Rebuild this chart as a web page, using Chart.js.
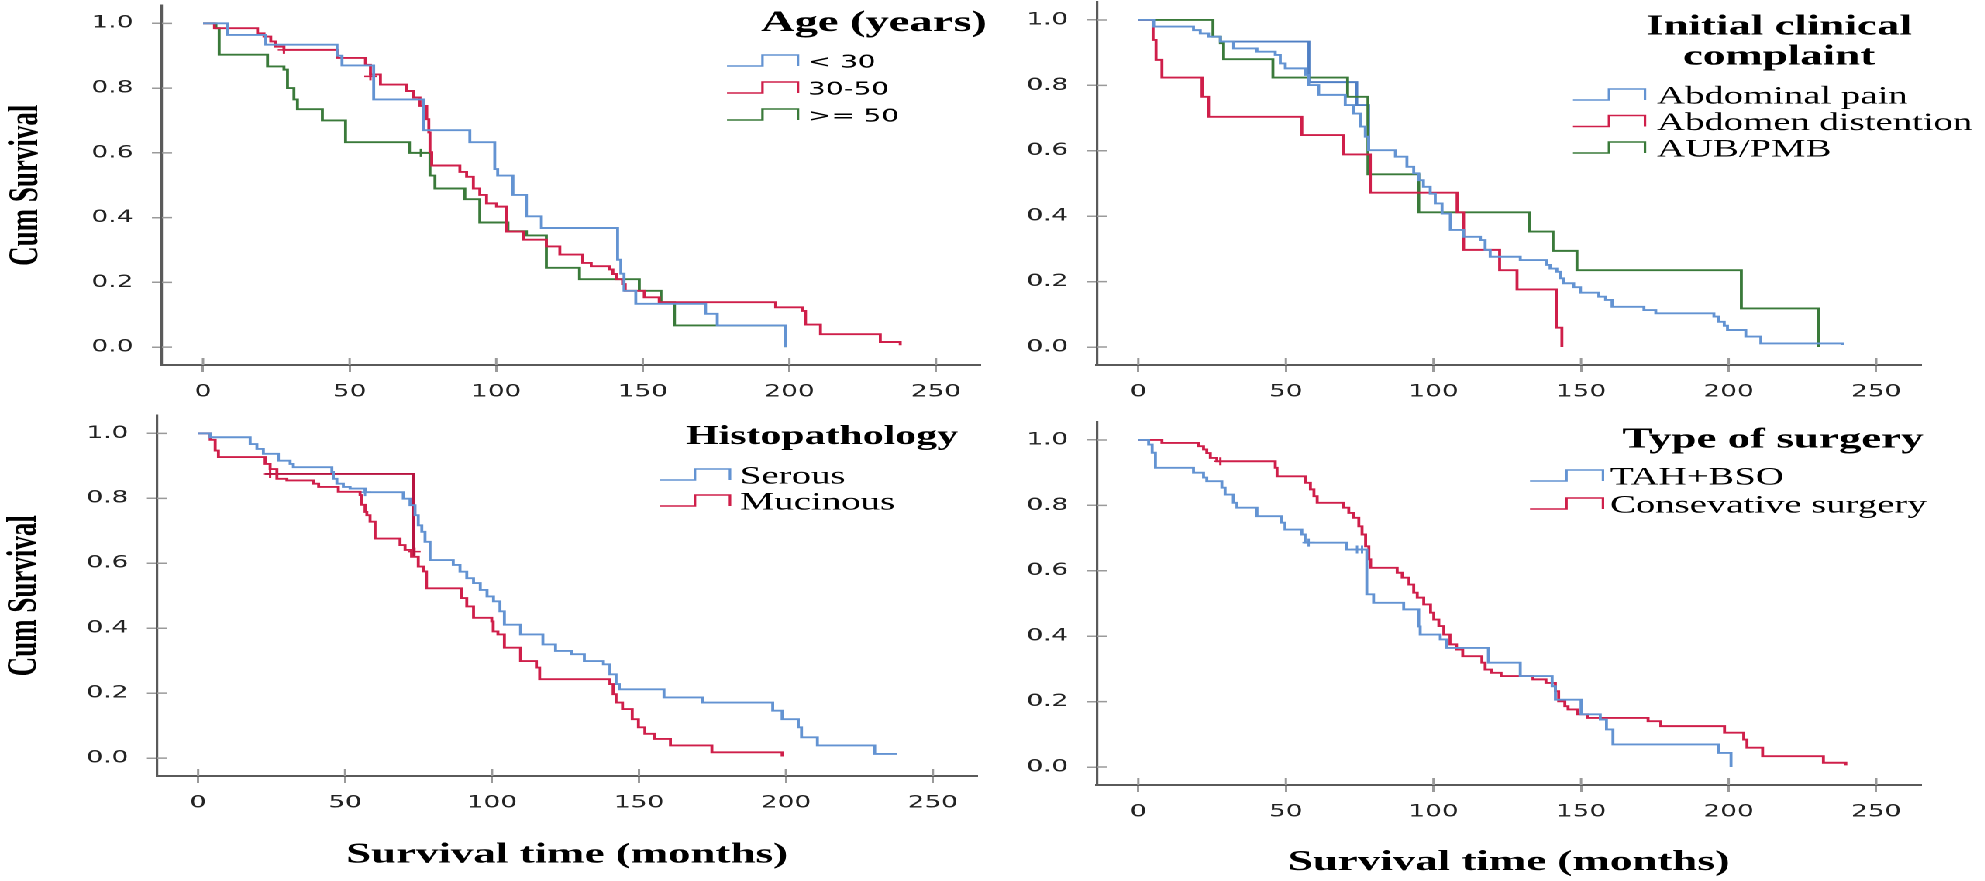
<!DOCTYPE html>
<html>
<head>
<meta charset="utf-8">
<title>Kaplan-Meier survival curves</title>
<script src="https://cdn.jsdelivr.net/npm/chart.js@4.4.1/dist/chart.umd.min.js"></script>
<style>
  html, body { margin: 0; padding: 0; background: #fff; overflow: hidden; }
  #stage { position: absolute; left: 0; top: 0; height: 881px; transform-origin: 0 0; }
  #stage canvas { position: absolute; }
</style>
</head>
<body>
<div id="stage">
  <canvas id="c1"></canvas>
  <canvas id="c2"></canvas>
  <canvas id="c3"></canvas>
  <canvas id="c4"></canvas>
</div>
<script>
// the source figure is stretched sideways, so draw narrow and stretch the stage
const SX = 1.55;

// ---- axis ticks ----
const monthTicks = [0, 50, 100, 150, 200, 250];
const survTicks = [0, 0.2, 0.4, 0.6, 0.8, 1.0];

// ---- Age (years) : [month, cum survival] ----
const ageLabels = ['< 30', '30-50', '>= 50'];
const ageUnder30 = [[0,1],[8.4,0.964],[21.4,0.934],[45.7,0.90],[47.4,0.87],[58.2,0.765],[75.2,0.67],[91,0.633],[99.5,0.55],[100.5,0.53],[105.7,0.47],[110.3,0.404],[115.4,0.368],[141.4,0.27],[142.5,0.227],[143.6,0.174],[147.6,0.134],[171.4,0.103],[175.4,0.067],[198.6,0]];
const age30to50 = [[0,1],[3.9,0.985],[18.6,0.969],[20.8,0.959],[23.1,0.944],[24.8,0.928],[27.6,0.918],[45.7,0.893],[55.4,0.872],[57.1,0.842],[60.5,0.811],[69.5,0.791],[71.8,0.771],[74,0.745],[76.3,0.704],[77,0.663],[77.4,0.602],[78,0.561],[87.6,0.541],[89.9,0.526],[92.2,0.49],[94.4,0.47],[96.7,0.444],[100.1,0.434],[103.5,0.357],[109.2,0.332],[117.1,0.311],[121.7,0.286],[129.5,0.26],[132.4,0.25],[138.6,0.24],[139.8,0.226],[141,0.21],[143.1,0.195],[144,0.174],[150.5,0.154],[155.6,0.139],[195.3,0.123],[204.4,0.112],[205.5,0.07],[210.6,0.04],[231,0.016],[237.8,0.006]];
const ageOver50 = [[0,1],[4.4,0.985],[5.5,0.903],[22,0.867],[27.6,0.857],[28.8,0.80],[31,0.765],[32.2,0.735],[40.7,0.70],[48.6,0.633],[70.4,0.60],[77.4,0.53],[79.1,0.49],[89.3,0.457],[94.4,0.385],[104,0.358],[110.3,0.345],[117.1,0.245],[128.4,0.21],[148.8,0.174],[156.2,0.139],[160.8,0.067],[198.6,0]];
const ageCensor30to50 = [[27.6,0.918],[57.1,0.836]];
const ageCensorOver50 = [[74.3,0.60]];

// ---- Initial clinical complaint ----
const complaintLabels = ['Abdominal pain', 'Abdomen distention', 'AUB/PMB'];
const complaintPain = [[0,1],[5.2,0.98],[18.7,0.969],[21,0.959],[23.8,0.949],[27.8,0.934],[32.3,0.913],[40.2,0.903],[46.4,0.893],[48.1,0.867],[49.8,0.852],[56.6,0.832],[57.7,0.801],[61.1,0.771],[70.1,0.74],[72.9,0.714],[75.2,0.674],[76.9,0.643],[78,0.602],[87.1,0.582],[91,0.551],[93.3,0.531],[95,0.51],[96.6,0.49],[98.9,0.469],[100.6,0.439],[102.9,0.408],[105.7,0.358],[110.2,0.337],[115.9,0.327],[117.5,0.297],[119.2,0.276],[129.4,0.266],[138.4,0.251],[139.5,0.24],[141.8,0.23],[143,0.21],[144.1,0.195],[147.5,0.183],[149.8,0.166],[156,0.154],[158.3,0.144],[160.5,0.123],[171.3,0.113],[175.3,0.103],[195,0.093],[196.5,0.077],[198.5,0.065],[199.6,0.052],[205.8,0.032],[210.9,0.011],[238.5,0.006]];
const complaintPainUpper = [[27.8,0.934],[57.8,0.934],[57.8,0.81],[74,0.81],[74,0.74],[78,0.74],[78,0.602]];
const complaintDistention = [[0,1],[5,0.939],[6,0.878],[8,0.824],[21.6,0.765],[23.8,0.704],[55.4,0.648],[69.6,0.589],[78.6,0.472],[108,0.412],[110.2,0.297],[122.4,0.235],[128.3,0.176],[141.6,0.059],[143.5,0]];
const complaintAub = [[0,1],[25.3,0.949],[27.8,0.929],[28.9,0.88],[45.6,0.824],[70.9,0.765],[77.8,0.528],[95,0.412],[132.6,0.353],[140.5,0.294],[148.6,0.235],[204.3,0.118],[230.5,0]];

// ---- Histopathology ----
const histoLabels = ['Serous', 'Mucinous'];
const histoSerous = [[0,1],[4.1,0.988],[17.7,0.967],[20,0.952],[22.2,0.937],[27.3,0.916],[31.3,0.906],[32.4,0.896],[45.5,0.881],[46,0.86],[47.2,0.845],[49.4,0.835],[51.7,0.83],[56.8,0.819],[69.8,0.799],[72.1,0.779],[73.8,0.748],[74.9,0.717],[76.1,0.697],[77.2,0.666],[78.9,0.61],[86.8,0.595],[89.1,0.574],[91.4,0.554],[93.7,0.539],[96,0.518],[98.3,0.498],[100.5,0.483],[102.7,0.452],[104.2,0.411],[109.7,0.381],[117.3,0.35],[121.6,0.33],[127,0.32],[131.4,0.299],[137.9,0.289],[140.1,0.258],[142.2,0.228],[143.3,0.212],[158.5,0.187],[171.6,0.171],[195.5,0.146],[198.7,0.12],[204.2,0.095],[205.3,0.064],[210.7,0.039],[230.2,0.013],[237.8,0.013]];
const histoMucinous = [[0,1],[4.1,0.98],[5.8,0.947],[6.9,0.927],[22.8,0.906],[24.5,0.89],[26.8,0.86],[30.2,0.855],[39.3,0.845],[41,0.835],[47.7,0.82],[55.1,0.81],[55.7,0.78],[56.8,0.758],[57.4,0.748],[58.5,0.728],[60.2,0.676],[68.7,0.656],[70.4,0.641],[72.6,0.62],[74.9,0.59],[76.6,0.575],[77.7,0.523],[89.6,0.493],[91.4,0.467],[93.7,0.432],[99.9,0.421],[100.4,0.39],[102,0.381],[104.2,0.34],[109.7,0.299],[115.1,0.279],[116.2,0.243],[140.1,0.228],[141.2,0.197],[142.2,0.171],[144.4,0.151],[147.7,0.12],[149.8,0.095],[152,0.075],[155.2,0.059],[160.7,0.039],[174.8,0.018],[198.7,0.005]];
const histoMucinousUpper = [[22.8,0.875],[73.3,0.875],[73.3,0.62]];
const histoCensorSerous = [[56.8,0.819]];
const histoCensorMucinous = [[24.5,0.875],[73.6,0.636]];

// ---- Type of surgery ----
const surgeryLabels = ['TAH+BSO', 'Consevative surgery'];
const surgeryTah = [[0,1],[3.5,0.986],[4.7,0.961],[5.8,0.915],[18.7,0.90],[22.1,0.885],[23.2,0.874],[28.3,0.854],[29.4,0.833],[32.2,0.808],[33.4,0.793],[40.2,0.767],[48.6,0.747],[49.7,0.726],[55.4,0.711],[56.5,0.686],[70.6,0.665],[77.4,0.528],[79.7,0.502],[89.9,0.482],[95,0.43],[95.5,0.405],[102.3,0.39],[104.5,0.364],[118.6,0.319],[129.4,0.278],[140.2,0.247],[141.3,0.206],[150,0.161],[156.5,0.145],[158.6,0.115],[160.8,0.069],[196.5,0.043],[200.8,0]];
const surgeryConservative = [[0,1],[8,0.991],[20.4,0.981],[22.1,0.971],[23.2,0.96],[24.4,0.945],[26.6,0.935],[46.4,0.915],[47,0.889],[56.6,0.869],[58.3,0.849],[59.5,0.828],[60.6,0.808],[69.6,0.793],[71.3,0.777],[73,0.762],[74.7,0.736],[75.8,0.711],[77,0.675],[78.1,0.635],[78.7,0.609],[87.7,0.594],[89.4,0.579],[91.7,0.558],[93.3,0.533],[94.5,0.518],[96.7,0.497],[99,0.472],[100.1,0.451],[101.8,0.431],[103.5,0.405],[105.6,0.375],[107.8,0.359],[109.9,0.339],[116.4,0.319],[117.5,0.298],[119.7,0.288],[122.9,0.278],[133.7,0.268],[138.1,0.257],[141.3,0.232],[142.4,0.201],[144.5,0.186],[145.6,0.176],[148.9,0.161],[152.1,0.15],[172.7,0.14],[177,0.125],[198.6,0.105],[205.1,0.084],[206.2,0.059],[211.5,0.033],[232.1,0.013],[239.7,0.005]];
const surgeryCensorTah = [[57.7,0.686],[74.1,0.665],[75.8,0.665]];
const surgeryCensorConservative = [[27.8,0.935]];

const BLUE = '#6393d2';
const RED = '#cf1f4a';
const GREEN = '#3a7a3a';

const SERIF = '"Liberation Serif", "Times New Roman", serif';
const SANS = '"DejaVu Sans", Verdana, sans-serif';

function pts(arr) {
    return arr.map(([x, y]) => ({ x: x, y: y }));
}

function curve(label, arr, color, inLegend) {
    return {
        label: label,
        data: pts(arr),
        borderColor: color,
        backgroundColor: color,
        borderWidth: 1.9,
        stepped: 'before',
        pointRadius: 0,
        fill: false,
        legend: inLegend
    };
}

function censor(arr, color) {
    return {
        label: '',
        data: pts(arr),
        showLine: false,
        pointStyle: 'cross',
        pointRadius: 4,
        pointBorderWidth: 1.5,
        pointBorderColor: color,
        legend: false
    };
}

// tick marks in SPSS cross the axis line, Chart.js only draws the outer half
const tickCross = {
    id: 'tickCross',
    afterDraw(chart) {
        const { ctx, chartArea: a, scales: { x, y } } = chart;
        ctx.save();
        ctx.strokeStyle = '#9a9a9a';
        ctx.lineWidth = 1.5;
        ctx.beginPath();
        survTicks.forEach(v => {
            const py = y.getPixelForValue(v);
            ctx.moveTo(a.left, py);
            ctx.lineTo(a.left + 6.5, py);
        });
        monthTicks.forEach(v => {
            const px = x.getPixelForValue(v);
            ctx.moveTo(px, a.bottom);
            ctx.lineTo(px, a.bottom - 7);
        });
        ctx.stroke();
        ctx.restore();
    }
};

// legend with step icons, positions given in page pixels
const kmLegend = {
    id: 'kmLegend',
    afterDraw(chart, args, o) {
        const ctx = chart.ctx;
        const lx = v => (v - o.offX) / SX;
        const ly = v => v - o.offY;
        ctx.save();
        ctx.fillStyle = '#000';
        ctx.textBaseline = 'middle';
        ctx.textAlign = 'center';
        ctx.font = 'bold ' + o.titleSize + 'px ' + SERIF;
        o.title.forEach((t, i) => ctx.fillText(t, lx(o.titleX), ly(o.titleY + i * o.titleGap)));
        ctx.textAlign = 'left';
        ctx.font = o.itemFont;
        const items = chart.data.datasets.filter(d => d.legend);
        items.forEach((d, i) => {
            const cy = ly(o.rowY + i * o.rowGap);
            const x0 = lx(o.iconX), x1 = lx(o.iconX + o.iconW), xm = (x0 + x1) / 2;
            ctx.strokeStyle = d.borderColor;
            ctx.lineWidth = 1.6;
            ctx.beginPath();
            ctx.moveTo(x0, cy + 3);
            ctx.lineTo(xm, cy + 3);
            ctx.lineTo(xm, cy - 8);
            ctx.lineTo(x1, cy - 8);
            ctx.lineTo(x1, cy + 3);
            ctx.stroke();
            ctx.fillText(d.label, lx(o.textX), cy);
        });
        ctx.restore();
    }
};

function makePanel(p) {
    const cv = document.getElementById(p.id);
    const [bx, by, bw, bh] = p.box;
    cv.width = Math.round(bw / SX);
    cv.height = bh;
    cv.style.left = (bx / SX) + 'px';
    cv.style.top = by + 'px';

    const yWidth = (p.area.left - bx) / SX;
    const xHeight = by + bh - p.area.bottom;

    new Chart(cv, {
        type: 'line',
        data: { datasets: p.datasets },
        options: {
            responsive: false,
            animation: false,
            devicePixelRatio: 2,
            events: [],
            layout: {
                padding: { left: 0, top: p.area.top - by, right: (bx + bw - p.area.right) / SX, bottom: 0 }
            },
            plugins: {
                legend: { display: false },
                tooltip: { enabled: false },
                kmLegend: Object.assign({ offX: bx, offY: by }, p.legend)
            },
            scales: {
                x: {
                    type: 'linear',
                    min: -14,
                    max: 265,
                    afterBuildTicks: s => { s.ticks = monthTicks.map(v => ({ value: v })); },
                    afterFit: s => { s.height = xHeight; s.paddingLeft = 0; s.paddingRight = 0; },
                    grid: { drawOnChartArea: false, color: '#9a9a9a', lineWidth: 1.5, tickLength: 7 },
                    border: { display: true, color: '#5a5a5a', width: 2 },
                    ticks: {
                        color: '#222',
                        padding: 10,
                        maxRotation: 0,
                        font: { family: SANS, size: 17 },
                        callback: v => String(v)
                    },
                    title: {
                        display: !!p.xTitle,
                        text: 'Survival time (months)',
                        color: '#000',
                        font: { family: SERIF, size: 29, weight: 'bold' },
                        padding: { top: 0, bottom: p.xTitlePad || 0 }
                    }
                },
                y: {
                    min: -0.055,
                    max: 1.055,
                    afterBuildTicks: s => { s.ticks = survTicks.map(v => ({ value: v })); },
                    afterFit: s => { s.width = yWidth; s.paddingTop = 0; s.paddingBottom = 0; },
                    grid: { drawOnChartArea: false, color: '#9a9a9a', lineWidth: 1.5, tickLength: 6.5 },
                    border: { display: true, color: '#5a5a5a', width: 1.6 },
                    ticks: {
                        color: '#222',
                        padding: 12,
                        font: { family: SANS, size: 17 },
                        callback: v => v.toFixed(1)
                    },
                    title: {
                        display: !!p.yTitle,
                        text: 'Cum Survival',
                        color: '#000',
                        font: { family: SERIF, size: 27, weight: 'bold' },
                        padding: { top: p.yTitlePad || 0, bottom: 0 }
                    }
                }
            }
        },
        plugins: [tickCross, kmLegend]
    });
}

document.getElementById('stage').style.width = (1985 / SX) + 'px';
document.getElementById('stage').style.transform = 'scaleX(' + SX + ')';

makePanel({
    id: 'c1',
    box: [0, 0, 992, 410],
    area: { left: 162, right: 980, top: 2, bottom: 365 },
    yTitle: true, yTitlePad: 1,
    datasets: [
        curve(ageLabels[0], ageUnder30, BLUE, true),
        curve(ageLabels[1], age30to50, RED, true),
        curve(ageLabels[2], ageOver50, GREEN, true),
        censor(ageCensor30to50, RED),
        censor(ageCensorOver50, GREEN)
    ],
    legend: {
        title: ['Age (years)'], titleSize: 30, titleX: 874, titleY: 23, titleGap: 0,
        iconX: 727, iconW: 71, textX: 808, rowY: 63, rowGap: 27,
        itemFont: '18px ' + SANS
    }
});

makePanel({
    id: 'c2',
    box: [992, 0, 993, 410],
    area: { left: 1097, right: 1920, top: 2, bottom: 365 },
    datasets: [
        curve(complaintLabels[0], complaintPain, BLUE, true),
        curve(complaintLabels[1], complaintDistention, RED, true),
        curve(complaintLabels[2], complaintAub, GREEN, true),
        curve('', complaintPainUpper, '#4f7fc4', false)
    ],
    legend: {
        title: ['Initial clinical', 'complaint'], titleSize: 29, titleX: 1779, titleY: 27, titleGap: 30,
        iconX: 1573, iconW: 72, textX: 1657, rowY: 97, rowGap: 26.5,
        itemFont: '25px ' + SERIF
    }
});

makePanel({
    id: 'c3',
    box: [0, 410, 992, 471],
    area: { left: 157, right: 977, top: 413, bottom: 776 },
    yTitle: true, yTitlePad: 0,
    xTitle: true, xTitlePad: 8.6,
    datasets: [
        curve(histoLabels[0], histoSerous, BLUE, true),
        curve(histoLabels[1], histoMucinous, RED, true),
        curve('', histoMucinousUpper, '#b81440', false),
        censor(histoCensorSerous, BLUE),
        censor(histoCensorMucinous, RED)
    ],
    legend: {
        title: ['Histopathology'], titleSize: 27, titleX: 822, titleY: 437, titleGap: 0,
        iconX: 660, iconW: 70, textX: 740, rowY: 477, rowGap: 26,
        itemFont: '25px ' + SERIF
    }
});

makePanel({
    id: 'c4',
    box: [992, 410, 993, 471],
    area: { left: 1097, right: 1920, top: 422, bottom: 785 },
    xTitle: true, xTitlePad: 1,
    datasets: [
        curve(surgeryLabels[0], surgeryTah, BLUE, true),
        curve(surgeryLabels[1], surgeryConservative, RED, true),
        censor(surgeryCensorTah, BLUE),
        censor(surgeryCensorConservative, RED)
    ],
    legend: {
        title: ['Type of surgery'], titleSize: 29, titleX: 1773, titleY: 440, titleGap: 0,
        iconX: 1530, iconW: 73, textX: 1610, rowY: 478, rowGap: 28,
        itemFont: '25px ' + SERIF
    }
});
</script>
</body>
</html>
